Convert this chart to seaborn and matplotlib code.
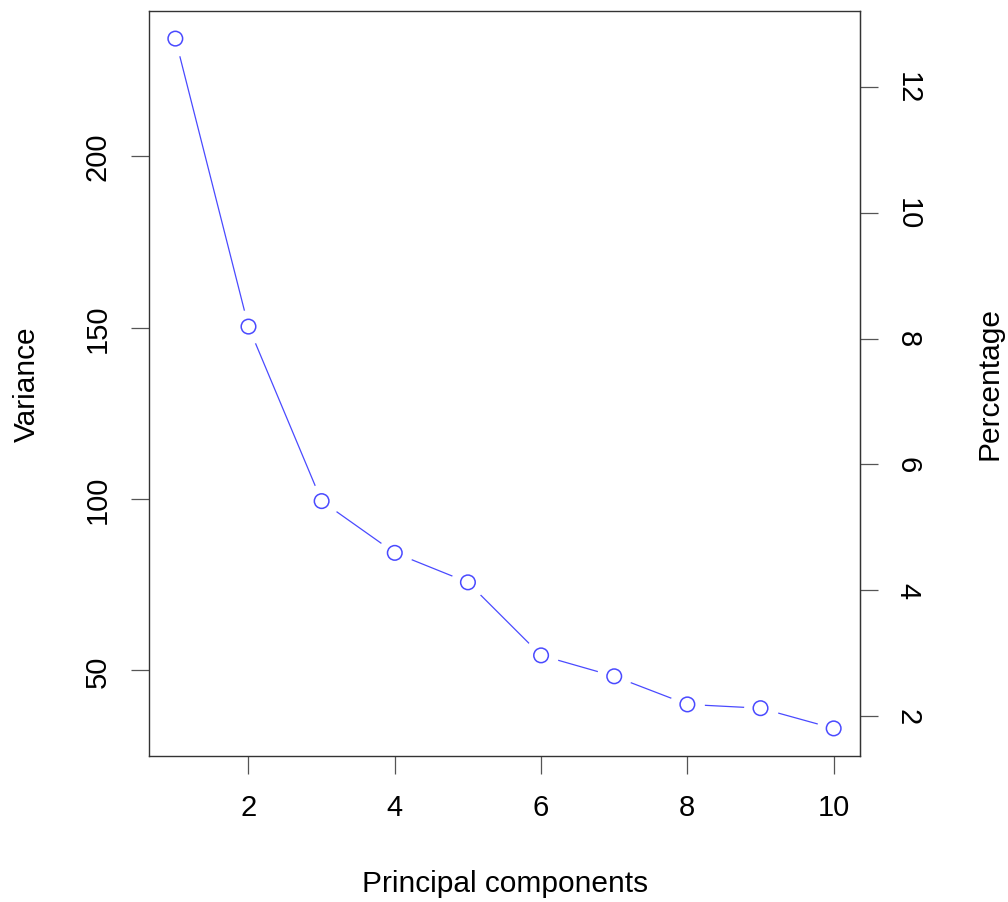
import matplotlib
matplotlib.use("Agg")
import matplotlib.pyplot as plt
import seaborn as sns
import pandas as pd

components = [1, 2, 3, 4, 5, 6, 7, 8, 9, 10]
variance = [234.3, 150.3, 99.4, 84.3, 75.7, 54.4, 48.3, 40.1, 39.0, 33.1]
total_variance = 1835.0
x_ticks = [2, 4, 6, 8, 10]
var_ticks = [50, 100, 150, 200]
pct_ticks = [2, 4, 6, 8, 10, 12]

sns.set_style("white")
plt.rcParams["font.family"] = ["Liberation Sans", "DejaVu Sans"]
plt.rcParams["text.color"] = "black"
plt.rcParams["xtick.color"] = "black"
plt.rcParams["ytick.color"] = "black"
plt.rcParams["axes.labelcolor"] = "black"

df = pd.DataFrame({"pc": components, "var": variance})

fig = plt.figure(figsize=(10.08, 9.03), dpi=100)
ax = fig.add_axes([149/1008, 1-757/903, 711/1008, 745/903])

blue = "#4a4aff"
sns.lineplot(data=df, x="pc", y="var", ax=ax, color=blue, lw=0.9, zorder=2)
# white halos to mimic R type="b" gaps
ax.plot(df["pc"], df["var"], ls="none", marker="o", ms=24, mfc="white", mec="white", zorder=3)
sns.scatterplot(data=df, x="pc", y="var", ax=ax, s=110, facecolor="none",
                edgecolor=blue, linewidth=1.1, zorder=4)

ax.set_xlim(0.64, 10.36)
ax.set_ylim(25.05, 242.35)
ax.set_xticks(x_ticks)
ax.set_yticks(var_ticks)
ax.set_yticklabels([str(v) for v in var_ticks], rotation=90, va="center")

for s in ax.spines.values():
    s.set_visible(True)
    s.set_color("#333333")
    s.set_linewidth(1.0)

ax.tick_params(axis="both", which="major", length=13, width=0.9, color="#555555",
               labelcolor="black", labelsize=21, pad=14, direction="out",
               bottom=True, left=True)

sec = ax.secondary_yaxis("right", functions=(lambda v: v*100/total_variance,
                                              lambda p: p*total_variance/100))
sec.set_yticks(pct_ticks)
sec.set_yticklabels([str(p) for p in pct_ticks], rotation=-90, va="center")
sec.spines["right"].set_color("#333333")
sec.tick_params(axis="y", length=13, width=0.9, color="#555555", labelcolor="black",
                labelsize=21, pad=11, direction="out", right=True)

ax.set_xlabel("")
ax.set_ylabel("")
fig.text(505/1008, 1-884/903, "Principal components", fontsize=21.5,
         ha="center", va="center", color="black")
fig.text(27/1008, 1-384/903, "Variance", fontsize=21.5, rotation=90,
         ha="center", va="center", color="black")
fig.text(989/1008, 1-384/903, "Percentage", fontsize=21.5, rotation=90,
         ha="center", va="center", color="black")

fig.savefig("out.png", dpi=100)
